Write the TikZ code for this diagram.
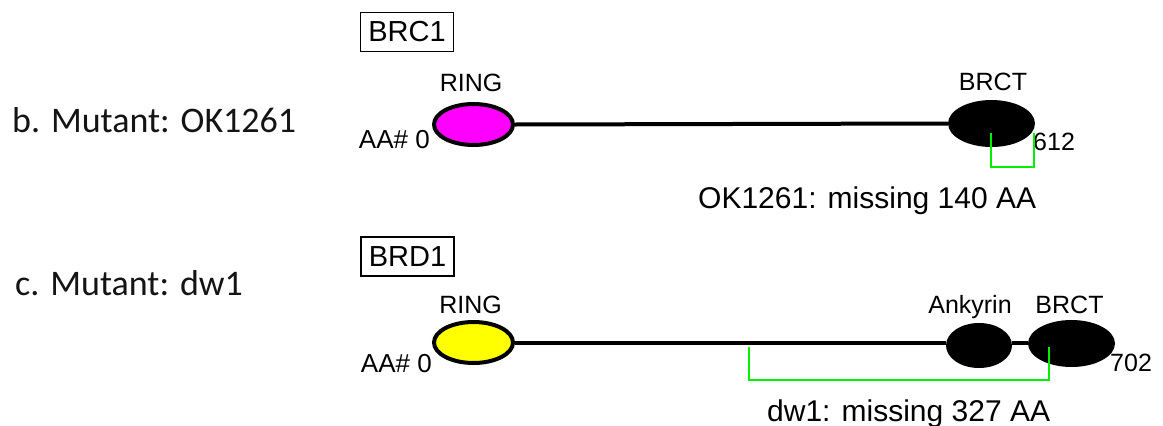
\documentclass[tikz,border=0pt]{standalone}
\usepackage{fontspec}
\setmainfont{Liberation Sans}
\newfontfamily\calfont{Carlito}
\usetikzlibrary{shapes.geometric}
\definecolor{ringmag}{RGB}{255,0,255}
\definecolor{ringyel}{RGB}{255,255,0}
\definecolor{brgreen}{RGB}{0,240,0}
\newcommand{\fsz}[1]{\fontsize{#1pt}{#1pt}\selectfont}
\begin{document}
\begin{tikzpicture}[x=1pt,y=-1pt,
  lbl/.style={inner sep=0pt,font=\fsz{25}},
  aalbl/.style={inner sep=0pt,font=\fsz{26}},
  misslbl/.style={inner sep=0pt,font=\fsz{30}},
  mutlbl/.style={inner sep=0pt,font=\calfont\fsz{36},text=black!92},
  namebox/.style={draw,line width=1.5pt,inner sep=0pt,minimum width=93pt,minimum height=39pt,font=\fsz{29}},
  ringdom/.style={ellipse,draw=black,line width=4pt,inner sep=0pt,minimum width=79pt,minimum height=41pt},
  blackdom/.style={ellipse,fill=black,inner sep=0pt},
  backbone/.style={line width=4pt},
  gap/.style={draw=brgreen,line width=2.7pt}
]
\useasboundingbox (0,0) rectangle (1163,426);

% left labels
\node[mutlbl,anchor=base west] (mb) at (12,132) {b. Mutant: OK1261};
\node[mutlbl,anchor=base west] (mc) at (15,295) {c. Mutant: dw1};

% ---- BRC1 ----
\node[namebox] (brc1) at (407,32) {BRC1};
\node[ringdom,fill=ringmag] (ring1) at (473.5,124.5) {};
\node[blackdom,minimum width=87pt,minimum height=47pt] (brct1) at (991.5,123.5) {};
\draw[backbone] (ring1.east) -- (brct1.west);
\node[lbl,anchor=base] (ringt1) at (471,91) {RING};
\node[aalbl,anchor=base east] (aa1) at (430,148) {AA\# 0};
\node[lbl,anchor=base] (brctt1) at (993,90) {BRCT};
\node[lbl,anchor=base west] (end1) at (1033,150) {612};
\coordinate (g1a) at (991,133);
\coordinate (g1b) at (1034,133);
\draw[gap] (g1a) -- (g1a |- 0,167) -- (g1b |- 0,167) -- (g1b);
\node[misslbl,anchor=base west] (miss1) at (698,208) {OK1261: missing 140 AA};

% ---- BRD1 ----
\node[namebox] (brd1) at (407.5,256.5) {BRD1};
\node[ringdom,fill=ringyel] (ring2) at (473.5,342.5) {};
\node[blackdom,minimum width=66pt,minimum height=45pt] (ank) at (979,345.5) {};
\node[blackdom,minimum width=87pt,minimum height=47pt] (brct2) at (1071.5,343.5) {};
\draw[backbone] (ring2.east) -- (ank.west |- ring2.east);
\draw[backbone] (ank.east |- 0,342.5) -- (brct2.west |- 0,342.5);
\node[lbl,anchor=base] (ringt2) at (470.5,313) {RING};
\node[aalbl,anchor=base east] (aa2) at (432,372) {AA\# 0};
\node[lbl,anchor=base] (ankt) at (970,313) {Ankyrin};
\node[lbl,anchor=base] (brctt2) at (1069.5,313) {BRCT};
\node[lbl,anchor=base west] (end2) at (1110,371) {702};
\coordinate (g2a) at (749,347);
\coordinate (g2b) at (1049,347);
\draw[gap] (g2a) -- (g2a |- 0,380) -- (g2b |- 0,380) -- (g2b);
\node[misslbl,anchor=base west] (miss2) at (767,421) {dw1: missing 327 AA};
\end{tikzpicture}
\end{document}
